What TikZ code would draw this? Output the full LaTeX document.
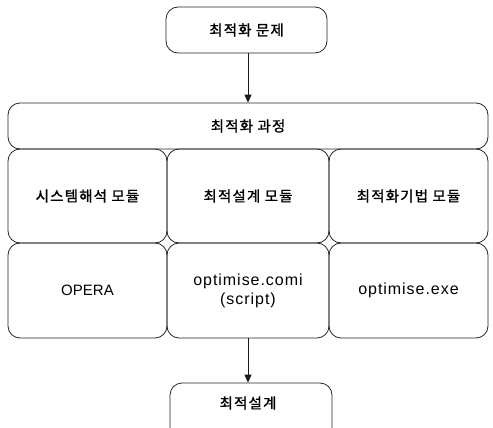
\documentclass[tikz,border=0pt]{standalone}
\usepackage{fontspec}
\setmainfont{Liberation Sans}
\newfontfamily\kr[LetterSpace=8,FakeBold=1.2]{Noto Sans CJK KR}
\newfontfamily\lat[LetterSpace=6]{Liberation Sans}
\usetikzlibrary{arrows.meta}
\tikzset{
  box/.style={draw=black!85, line width=0.8pt, rounded corners=12pt, inner sep=0pt, align=center},
  krtext/.style={font=\kr\fontsize{14.5}{16}\selectfont},
  lattext/.style={font=\lat\fontsize{16}{19}\selectfont},
  flow/.style={draw=black!90, line width=0.9pt, -{Triangle[length=8pt,width=7pt]}}
}
\begin{document}
\begin{tikzpicture}[x=1pt,y=-1pt]
\useasboundingbox (0,0) rectangle (493,428);
\clip (0,0) rectangle (493,428);
\node[box, krtext, minimum width=161pt, minimum height=46pt] (prob) at (246.5,30) {최적화 문제};
\node[box, krtext, minimum width=480pt, minimum height=46pt] (proc) at (248,126) {최적화 과정};
\node[box, krtext, minimum width=159pt, minimum height=94pt] (m1) at (87.5,196) {시스템해석 모듈};
\node[box, krtext, minimum width=162pt, minimum height=94pt] (m2) at (248,196) {최적설계 모듈};
\node[box, krtext, minimum width=159pt, minimum height=94pt] (m3) at (408.5,196) {최적화기법 모듈};
\node[box, font=\fontsize{15}{18}\selectfont, minimum width=159pt, minimum height=95pt] (t1) at (87.5,290.5) {OPERA};
\node[box, lattext, minimum width=162pt, minimum height=95pt] (t2) at (248,290.5) {optimise.comi\\(script)};
\node[box, lattext, minimum width=159pt, minimum height=95pt] (t3) at (408.5,290.5) {optimise.exe};
\node[box, minimum width=162pt, minimum height=60pt] (res) at (251,413) {};
\node[krtext] (restext) at (248,403) {최적설계};
\draw[flow] (prob.south -| proc.north) -- (proc.north);
\draw[flow] (t2.south) -- (t2.south |- res.north);
\end{tikzpicture}
\end{document}
